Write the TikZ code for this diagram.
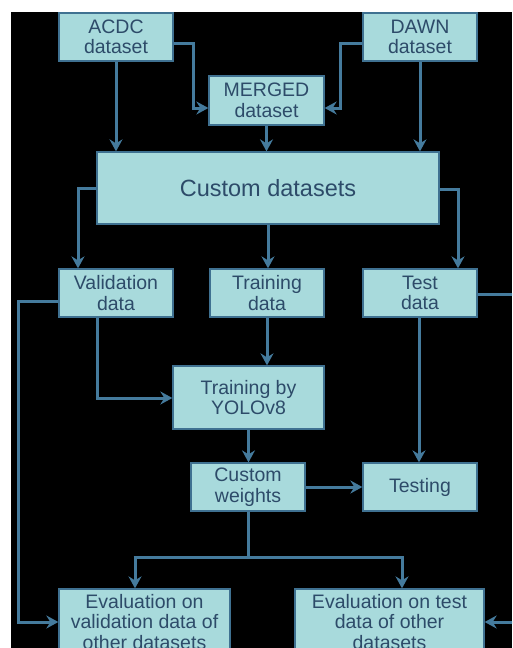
\documentclass[tikz,border=0pt]{standalone}
\usepackage{fontspec}
\setmainfont{Liberation Sans}
\usetikzlibrary{arrows.meta,calc}
\definecolor{boxfill}{HTML}{A8DADC}
\definecolor{boxline}{HTML}{3F7191}
\definecolor{txt}{HTML}{2D4B69}
\definecolor{arr}{HTML}{457B9D}
\tikzset{
  box/.style={draw=boxline, line width=1.3pt, fill=boxfill, text=txt, align=center,
    inner sep=0pt, font=\fontsize{19.5}{20.5}\selectfont},
  conn/.style={draw=arr, line width=3pt, -{Stealth[length=12pt,width=13pt,inset=4pt]}},
  plain/.style={draw=arr, line width=3pt}
}
\begin{document}
\begin{tikzpicture}[x=1pt,y=-1pt]
\useasboundingbox (0,0) rectangle (512,648);
\fill[white] (0,0) rectangle (512,648);
\fill[black] (11,12) rectangle (512,648);
\begin{scope}
\clip (11,12) rectangle (512,648);
\node[box, minimum width=114pt, minimum height=48pt] (acdc) at (116,37) {ACDC\\dataset};
\node[box, minimum width=114pt, minimum height=48pt] (dawn) at (420,37) {DAWN\\dataset};
\node[box, minimum width=115pt, minimum height=49pt] (merged) at (266.5,100.5) {MERGED\\dataset};
\node[box, minimum width=342pt, minimum height=72pt, font=\fontsize{23.5}{24}\selectfont] (custom) at (268,188) {Custom datasets};
\node[box, minimum width=114pt, minimum height=48pt] (val) at (116,293) {Validation\\data};
\node[box, minimum width=114pt, minimum height=48pt] (train) at (267,293) {Training\\data};
\node[box, minimum width=114pt, minimum height=48pt] (test) at (420,293) {Test\\data};
\node[box, minimum width=151pt, minimum height=63pt] (yolo) at (248.5,397.5) {Training by\\YOLOv8};
\node[box, minimum width=114pt, minimum height=48pt] (weights) at (248,487) {Custom\\weights};
\node[box, minimum width=114pt, minimum height=48pt] (testing) at (420,487) {Testing};
\node[box, minimum width=171pt, minimum height=66pt] (evalval) at (144.5,622) {Evaluation on\\validation data of\\other datasets};
\node[box, minimum width=189pt, minimum height=66pt] (evaltest) at (389.5,622) {Evaluation on test\\data of other\\datasets};
\coordinate (rightout) at (520,294);
\coordinate (rightin) at (520,622);

% top section
\draw[conn] (acdc.south) -- (acdc.south |- custom.north);
\draw[conn] (dawn.south) -- (dawn.south |- custom.north);
\draw[conn] (merged.south) -- (merged.south |- custom.north);
\draw[conn] ($(acdc.east)+(0,6)$) -- (193,43) -- (193,108) -- ($(merged.west)+(0,7.5)$);
\draw[conn] ($(dawn.west)+(0,6)$) -- (340,43) -- (340,108) -- ($(merged.east)+(0,7.5)$);
% custom datasets split
\draw[conn] (custom.west) -- (78,188) -- (78,0 |- val.north);
\draw[conn] ($(custom.east)+(0,1)$) -- (458,189) -- (458,0 |- test.north);
\draw[conn] (custom.south) -- (custom.south |- train.north);
% training
\draw[conn] (97,0 |- val.south) -- (97,398) -- (yolo.west |- 0,398);
\draw[conn] (train.south) -- (yolo.north -| train.south);
\draw[conn] (yolo.south) -- (yolo.south |- weights.north);
\draw[conn] (weights.east) -- (testing.west);
\draw[conn] ($(test.south)+(-1,0)$) -- ($(testing.north)+(-1,0)$);
% evaluation
\draw[plain] (weights.south) -- (248,557);
\draw[conn] (135,557) -- (135,0 |- evalval.north);
\draw[conn] (402,557) -- (402,0 |- evaltest.north);
\draw[plain] (133.5,557) -- (403.5,557);
\draw[conn] ($(val.west)+(0,8)$) -- (18,301) -- (18,622) -- (evalval.west);
\draw[plain] ($(test.east)+(0,1)$) -- (rightout);
\draw[conn] (rightin) -- (evaltest.east);
\end{scope}
\end{tikzpicture}
\end{document}
